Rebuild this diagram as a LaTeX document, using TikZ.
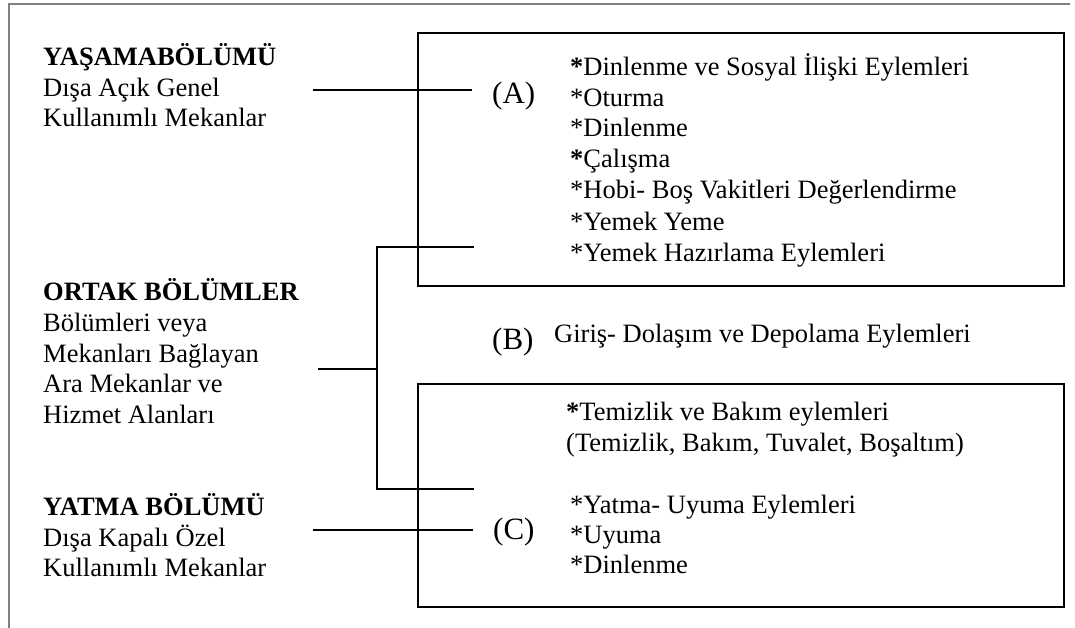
\documentclass[tikz,border=0pt]{standalone}
\usepackage{fontspec}
\setmainfont{Liberation Serif}
\begin{document}
\begin{tikzpicture}[x=1pt,y=-1pt,
  txt/.style={anchor=base west, inner sep=0pt, font=\fontsize{26.5}{30.8}\selectfont},
  hd/.style={anchor=base west, inner sep=0pt, font=\fontsize{26.5}{30.8}\selectfont\bfseries},
  lbl/.style={anchor=base west, inner sep=0pt, font=\fontsize{31}{35}\selectfont},
  box/.style={draw, line width=2pt, anchor=north west, inner sep=0pt},
  conn/.style={line width=1.6pt},
  frame/.style={draw=black!50, line width=1.5pt}]
\useasboundingbox (0,0) rectangle (1075,628);
% outer frame (top and left edges)
\coordinate (fTL) at (9,4);
\coordinate (fTR) at (1070,4);
\coordinate (fBL) at (9,628);
\draw[frame] (fBL) -- (fTL) -- (fTR);

% boxes
\node (boxA) [box, minimum width=646pt, minimum height=253pt] at (417,32) {};
\node (boxC) [box, minimum width=646pt, minimum height=223pt] at (417,383) {};

% left column
\node (yasH) [hd] at (43,66) {YAŞAMABÖLÜMÜ};
\node (yas1) [txt] at (43,97) {Dışa Açık Genel};
\node (yas2) [txt] at (43,127) {Kullanımlı Mekanlar};

\node (ortH) [hd] at (43,300) {ORTAK BÖLÜMLER};
\node (ort1) [txt] at (43,331) {Bölümleri veya};
\node (ort2) [txt] at (43,362) {Mekanları Bağlayan};
\node (ort3) [txt] at (43,392) {Ara Mekanlar ve};
\node (ort4) [txt] at (43,423) {Hizmet Alanları};

\node (yatH) [hd] at (43,515) {YATMA BÖLÜMÜ};
\node (yat1) [txt] at (43,546) {Dışa Kapalı Özel};
\node (yat2) [txt] at (43,576) {Kullanımlı Mekanlar};

% labels
\node (labA) [lbl] at (492,104) {(A)};
\node (labB) [lbl] at (492,349) {(B)};
\node (labC) [lbl] at (493,539) {(C)};

% box A text
\node (a1) [txt] at (570,76) {\textbf{*}Dinlenme ve Sosyal İlişki Eylemleri};
\node (a2) [txt] at (570,107) {*Oturma};
\node (a3) [txt] at (570,137) {*Dinlenme};
\node (a4) [txt] at (570,168) {\textbf{*}Çalışma};
\node (a5) [txt] at (570,199) {*Hobi- Boş Vakitleri Değerlendirme};
\node (a6) [txt] at (570,230) {*Yemek Yeme};
\node (a7) [txt] at (570,261) {*Yemek Hazırlama Eylemleri};

% B text
\node (b1) [txt] at (554,342) {Giriş- Dolaşım ve Depolama Eylemleri};

% box C text
\node (c1) [txt] at (566,420) {\textbf{*}Temizlik ve Bakım eylemleri};
\node (c2) [txt] at (566,451) {(Temizlik, Bakım, Tuvalet, Boşaltım)};
\node (c3) [txt] at (570,513) {*Yatma- Uyuma Eylemleri};
\node (c4) [txt] at (570,543) {*Uyuma};
\node (c5) [txt] at (570,573) {*Dinlenme};

% connectors
\coordinate (yasS) at (313,90);
\coordinate (yasE) at (472,90);
\draw[conn] (yasS) -- (yasE);

\coordinate (ortS) at (318,369);
\coordinate (ortJ) at (377,369);
\coordinate (ortT) at (377,247);
\coordinate (ortB) at (377,489);
\coordinate (ortTE) at (474,247);
\coordinate (ortBE) at (474,489);
\draw[conn] (ortS) -- (ortJ);
\draw[conn] (ortTE) -- (ortT) -- (ortB) -- (ortBE);

\coordinate (yatS) at (313,530);
\coordinate (yatE) at (473,530);
\draw[conn] (yatS) -- (yatE);
\end{tikzpicture}
\end{document}
